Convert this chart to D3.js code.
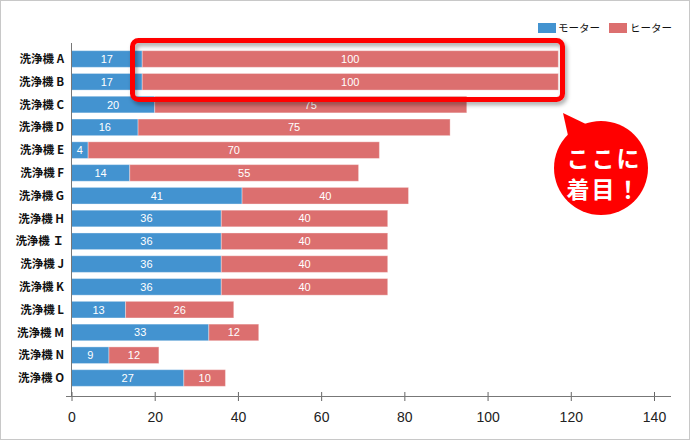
<!DOCTYPE html>
<html><head><meta charset="utf-8">
<script src="https://cdn.jsdelivr.net/npm/d3@7"></script>
<style>
html,body{margin:0;padding:0;background:#fff;}
svg{display:block;}
</style>
</head><body>
<script>
const categories = ["洗浄機 A","洗浄機 B","洗浄機 C","洗浄機 D","洗浄機 E","洗浄機 F","洗浄機 G","洗浄機 H","洗浄機 Ｉ","洗浄機 J","洗浄機 K","洗浄機 L","洗浄機 M","洗浄機 N","洗浄機 O"];
const motor  = [17,17,20,16,4,14,41,36,36,36,36,13,33,9,27];
const heater = [100,100,75,75,70,55,40,40,40,40,40,26,12,12,10];
const seriesNames = ["モーター","ヒーター"];
const xTicks = [0,20,40,60,80,100,120,140];
const calloutLines = ["ここに","着目！"];

const W = 690, H = 440;
const colors = ["#4393d0","#dc6f6f"];
const svg = d3.select("body").append("svg").attr("width",W).attr("height",H);

const defs = svg.append("defs");
const f = defs.append("filter").attr("id","shadow").attr("x","-10%").attr("y","-30%").attr("width","130%").attr("height","170%");
f.append("feDropShadow").attr("dx",2).attr("dy",3).attr("stdDeviation",2).attr("flood-color","#000").attr("flood-opacity",0.35);

svg.append("rect").attr("x",0.5).attr("y",0.5).attr("width",W-1).attr("height",H-1)
  .attr("fill","#fff").attr("stroke","#c8c8c8");

const x = d3.scaleLinear().domain([0,140]).range([71.5,654]);
const y = d3.scaleBand().domain(categories).range([47.6,389.4]).paddingInner(0.27).paddingOuter(0.135);

const stackData = categories.map((c,i)=>({cat:c, m:motor[i], h:heater[i]}));
const stack = d3.stack().keys(["m","h"])(stackData);

const gBars = svg.append("g");
stack.forEach((layer,li)=>{
  gBars.selectAll(null).data(layer).join("rect")
    .attr("x",d=>x(d[0])).attr("y",d=>y(d.data.cat))
    .attr("width",d=>x(d[1])-x(d[0])).attr("height",y.bandwidth())
    .attr("fill",colors[li]).attr("stroke","rgba(255,255,255,0.35)").attr("stroke-width",1);
  gBars.selectAll(null).data(layer).join("text")
    .attr("x",d=>(x(d[0])+x(d[1]))/2).attr("y",d=>y(d.data.cat)+y.bandwidth()/2)
    .attr("dy","0.36em").attr("text-anchor","middle")
    .attr("fill","#fff").attr("font-family","Liberation Sans, Arial, sans-serif").attr("font-size",11)
    .text(d=>d[1]-d[0]);
});

// category labels
svg.append("g").selectAll("text").data(categories).join("text")
  .attr("x",64).attr("y",d=>y(d)+y.bandwidth()/2).attr("dy","0.36em")
  .attr("text-anchor","end").attr("font-family","Noto Sans CJK JP, sans-serif")
  .attr("font-weight","bold").attr("font-size",11.5).attr("fill","#111")
  .text(d=>d);

// axes
const axisY = 396.5;
svg.append("line").attr("x1",71.5).attr("x2",71.5).attr("y1",43).attr("y2",axisY).attr("stroke","#777").attr("stroke-width",1);
const xAxis = d3.axisBottom(x).tickValues(xTicks).tickSize(9).tickFormat(d3.format("d"));
const gx = svg.append("g").attr("transform",`translate(0,${axisY-4.5})`).call(xAxis);
gx.select(".domain").remove();
gx.selectAll(".tick line").attr("stroke","#666");
gx.selectAll(".tick text").attr("font-family","Liberation Sans, Arial, sans-serif").attr("font-size",14).attr("fill","#222").attr("dy","1.25em");
svg.append("line").attr("x1",66).attr("x2",671).attr("y1",axisY).attr("y2",axisY).attr("stroke","#777");

// legend
const leg = svg.append("g");
const legItems = [{x:538,tx:558},{x:609,tx:630}];
seriesNames.forEach((n,i)=>{
  leg.append("rect").attr("x",legItems[i].x).attr("y",23).attr("width",18).attr("height",10).attr("fill",colors[i]);
  leg.append("text").attr("x",legItems[i].tx).attr("y",28).attr("dy","0.36em")
    .attr("font-family","Noto Sans CJK JP, sans-serif").attr("font-size",10.5).attr("fill","#111").text(n);
});

// highlight box
svg.append("rect").attr("x",132.5).attr("y",40.5).attr("width",430).attr("height",59).attr("rx",6)
  .attr("fill","none").attr("stroke","#ff0000").attr("stroke-width",5).attr("filter","url(#shadow)");

// callout bubble
const cb = svg.append("g");
cb.append("path").attr("d","M563,113 L569,140 L590,126 Z").attr("fill","#ff0000");
cb.append("circle").attr("cx",601).attr("cy",168).attr("r",47).attr("fill","#ff0000");
calloutLines.forEach((t,i)=>{
  cb.append("text").attr("x",604).attr("y",167+i*31).attr("text-anchor","middle")
    .attr("font-family","Noto Sans CJK JP, sans-serif").attr("font-weight","bold")
    .attr("font-size",23).attr("letter-spacing",2).attr("fill","#fff").text(t);
});
</script>
</body></html>
